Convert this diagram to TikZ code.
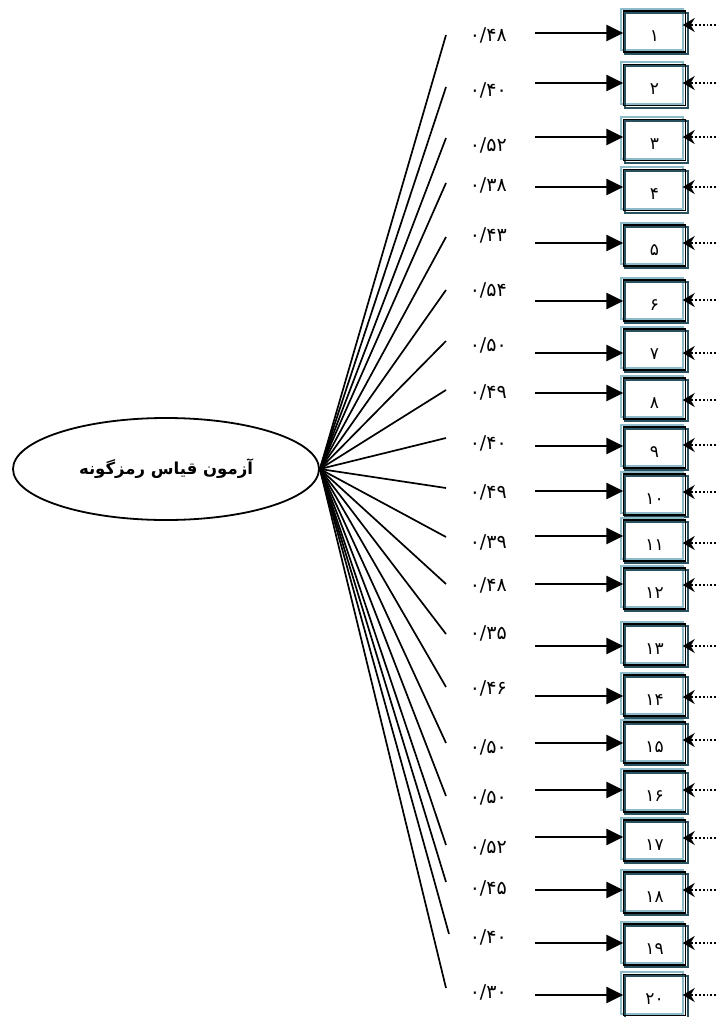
\documentclass[tikz,border=0pt]{standalone}
\usepackage{fontspec}
\usetikzlibrary{arrows.meta,calc,shapes.geometric}
\TeXXeTstate=1
\newfontfamily\fa[Script=Arabic]{DejaVu Sans}
\definecolor{lb}{HTML}{8DBBC9}
\definecolor{dk}{HTML}{29525E}
\begin{document}
\begin{tikzpicture}[x=1pt,y=-1pt,
  latent/.style={ellipse, draw, line width=1.8pt, minimum width=306pt, minimum height=102pt, inner sep=0pt, font=\fa\bfseries\fontsize{16.5}{18}\selectfont},
  obs/.style={minimum width=62pt, minimum height=41pt, inner sep=0pt, text height=19pt, text depth=0pt, font=\fa\fontsize{17}{19}\selectfont},
  coef/.style={anchor=east, inner sep=0pt, font=\fa\fontsize{19}{21}\selectfont},
  fan/.style={line width=1.7pt},
  load/.style={line width=2.6pt, -{Triangle[length=17pt,width=16pt]}},
  err/.style={line width=1.8pt, dash pattern=on 1.8pt off 2pt, -{Stealth[length=12pt,width=14pt,inset=4pt]}},
  lbf/.style={draw=lb, line width=2pt},
  dkf/.style={draw=dk, line width=1.8pt},
  blf/.style={draw=black, line width=1.5pt}]
\useasboundingbox (0,0) rectangle (715,1017);
\node[latent] (L) at (166,469) {\beginR آزمون قیاس رمزگونه\endR};
\foreach \i/\by/\ay/\ey/\ly/\fx/\fy/\val/\num in {
 1/31.5/33/25/35/446/35/{۰/۴۸}/۱,
 2/85/83/83/90/446/87/{۰/۴۰}/۲,
 3/140/137/137/145/446/138/{۰/۵۲}/۳,
 4/190/187/187/185/446/183/{۰/۳۸}/۴,
 5/245.5/243/243/235/446/237/{۰/۴۳}/۵,
 6/300.5/301/300/290/446/290/{۰/۵۴}/۶,
 7/349.5/353/353/345/446/341/{۰/۵۰}/۷,
 8/398.5/393/400/392/446/390/{۰/۴۹}/۸,
 9/447.5/446/445/443/446/438/{۰/۴۰}/۹,
 10/494.5/491/492/492/446/488/{۰/۴۹}/۱۰,
 11/540.5/536/543/542/446/537/{۰/۳۹}/۱۱,
 12/588.5/584/585/585/446/584/{۰/۴۸}/۱۲,
 13/644.5/646/646/633/446/634/{۰/۳۵}/۱۳,
 14/695.5/696/697/688/446/687/{۰/۴۶}/۱۴,
 15/742.5/743/740/747/446/743/{۰/۵۰}/۱۵,
 16/791.5/790/790/797/446/796/{۰/۵۰}/۱۶,
 17/840.5/837/838/847/446/845/{۰/۵۲}/۱۷,
 18/892.5/890/890/888/446/882/{۰/۴۵}/۱۸,
 19/944.5/943/943/937/449/934/{۰/۴۰}/۱۹,
 20/995/995/995/992/446/988/{۰/۳۰}/۲۰}{
  \node[obs] (b\i) at (654.5,\by) {\num};
  \draw[lbf] ($(b\i.north west)+(-2.5,-2)$) rectangle ($(b\i.south east)+(-2.5,-2)$);
  \draw[dkf] ($(b\i.north west)+(2,2)$) rectangle ($(b\i.south east)+(2,2)$);
  \draw[blf] (b\i.north west) rectangle (b\i.south east);
  \node[coef] (c\i) at (507,\ly) {\val};
  \coordinate (f\i) at (\fx,\fy);
  \draw[fan] (L.east) -- (f\i);
  \coordinate (a\i) at (535,\ay);
  \draw[load] (a\i) -- (a\i -| b\i.west);
  \coordinate (d\i) at (716,\ey);
  \draw[err, shorten >=-3pt] (d\i) -- (d\i -| b\i.east);
}
\end{tikzpicture}
\end{document}
